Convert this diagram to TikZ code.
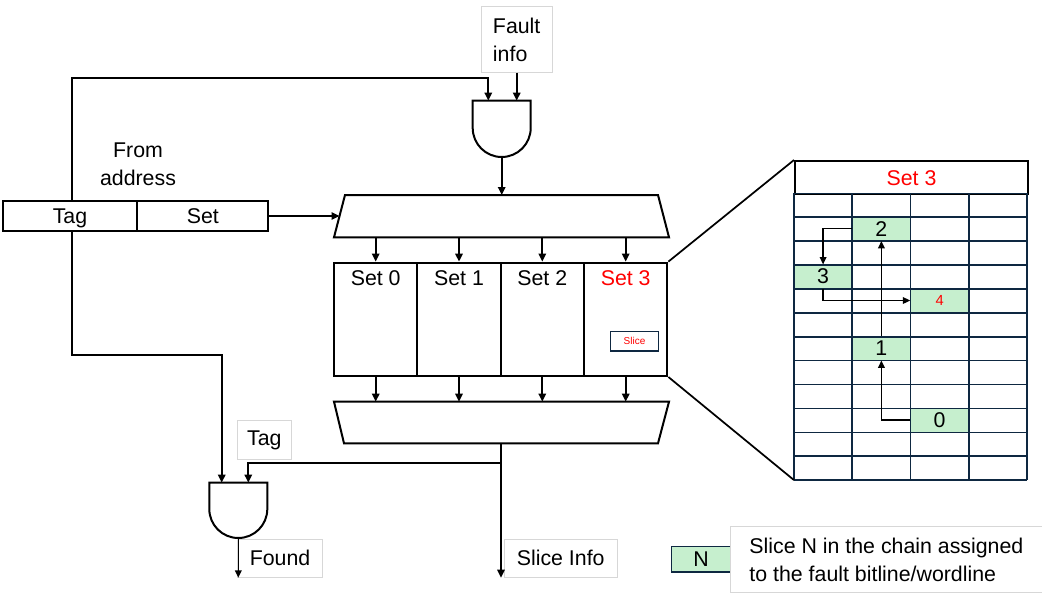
\documentclass[tikz,border=0pt]{standalone}
\usepackage{fontspec}
\setmainfont{Liberation Sans}
\usetikzlibrary{arrows.meta}

\definecolor{navy}{RGB}{14,40,65}
\definecolor{slicegreen}{RGB}{198,239,206}
\definecolor{setred}{RGB}{255,0,0}
\definecolor{boxgray}{RGB}{215,215,215}

\tikzset{
  wire/.style={line width=1.4pt,-{Triangle[length=6pt,width=5.5pt]}},
  thinwire/.style={line width=1pt,-{Triangle[length=5.5pt,width=5pt]}},
  block/.style={draw,line width=1.5pt,inner sep=0pt},
  field/.style={block,minimum height=22.5pt,text height=11.5pt,text depth=0pt,font=\fontsize{16}{18}\selectfont},
  setbox/.style={block,minimum width=62.5pt,minimum height=85pt},
  txtbox/.style={draw=boxgray,line width=0.6pt,inner sep=0pt,align=left,font=\fontsize{16}{21}\selectfont},
  cell/.style={fill=slicegreen,inner sep=0pt,minimum width=43.7pt,minimum height=17.9pt,font=\fontsize{16}{18}\selectfont},
  gridline/.style={draw=navy,line width=1.2pt},
}

\begin{document}
\begin{tikzpicture}[x=0.75pt,y=0.75pt,yscale=-1,xscale=1]
\useasboundingbox (0,0) rectangle (1042,593);

% address fields
\node[field,minimum width=101pt] (tag) at (70,215.7) {Tag};
\node[field,minimum width=98.25pt] (setf) at (202.8,215.7) {Set};
\node[align=center,font=\fontsize{16}{21}\selectfont] (from) at (138,164) {From\\address};

% fault info and and-gate on top
\node[txtbox,minimum width=53.5pt,minimum height=49pt] (fault) at (516.7,39.5) {Fault\\info};
\draw[line width=1.5pt] (472.7,100.7) -- (530.7,100.7) -- (530.7,128)
  .. controls (530.7,144) and (517.7,157) .. (501.7,157)
  .. controls (485.7,157) and (472.7,144) .. (472.7,128) -- cycle;
\coordinate (gA in1) at (488.3,100.7);
\coordinate (gA in2) at (516.7,100.7);
\coordinate (gA out) at (501.7,157);

% decoder
\draw[line width=1.5pt] (345,195) -- (658,195) -- (669,237.3) -- (334,237.3) -- cycle;
\coordinate (dec top) at (501.7,195);
\coordinate (dec in) at (339.5,216);
\coordinate (dec bot) at (501.7,237.3);

% sets
\foreach \i/\cx in {0/375.7,1/459,2/542.3,3/625.7}{
  \node[setbox] (set\i) at (\cx,319.3) {};
  \draw[wire] (set\i.north |- dec bot) -- (set\i.north);
}
\foreach \i/\cx in {0/375.7,1/459,2/542.3}{
  \node[font=\fontsize{16}{18}\selectfont] (set\i lbl) at (\cx,278) {Set \i};
}
\node[font=\fontsize{16}{18}\selectfont,text=setred] (set3 lbl) at (625.7,278) {Set 3};
\node[draw=navy,line width=1.1pt,minimum width=35.7pt,minimum height=14.5pt,inner sep=0pt,text=setred,font=\fontsize{7.5}{9}\selectfont] (slice) at (634.5,341.3) {Slice};

% output mux
\draw[line width=1.5pt] (334,401.7) -- (669,401.7) -- (658,443.3) -- (344,443.3) -- cycle;
\coordinate (mux top) at (501.7,401.7);
\coordinate (mux out) at (501,443.3);
\foreach \i in {0,...,3}
  \draw[wire] (set\i.south) -- (set\i.south |- mux top);

% and-gate for the tag compare
\draw[line width=1.5pt] (209.3,482.7) -- (267.3,482.7) -- (267.3,509)
  .. controls (267.3,525) and (254.3,538) .. (238.3,538)
  .. controls (222.3,538) and (209.3,525) .. (209.3,509) -- cycle;
\coordinate (gB in1) at (221.7,482.7);
\coordinate (gB in2) at (248.3,482.7);
\coordinate (gB out) at (238.3,538);

% labels
\node[txtbox,minimum width=40pt,minimum height=29pt] (taglbl) at (264.3,440) {Tag};
\node[txtbox,minimum width=64pt,minimum height=29pt] (found) at (280,558.3) {Found};
\node[txtbox,minimum width=85pt,minimum height=29pt] (sliceinfo) at (560.7,558.3) {Slice Info};
\coordinate (found end) at (238.3,577.7);
\coordinate (slice end) at (501,577.7);

% wires
\coordinate (tag up) at (71.7,200.7);
\coordinate (tag dn) at (71.7,230.7);
\coordinate (tag turn) at (71.7,78.3);
\coordinate (tag turn2) at (71.7,355);
\coordinate (branch) at (501,463.3);
\draw[wire] (tag up) -- (tag turn) -| (gA in1);
\draw[wire] (fault.south -| gA in2) -- (gA in2);
\draw[wire] (gA out) -- (dec top);
\draw[wire] (setf.east |- dec in) -- (dec in);
\draw[wire] (tag dn) -- (tag turn2) -| (gB in1);
\draw[wire] (mux out) -- (slice end);
\draw[wire] (branch) -| (gB in2);
\draw[thinwire] (gB out) -- (found end);

% zoomed view of set 3
\node[draw,line width=1.5pt,minimum width=174.75pt,minimum height=25pt,inner sep=0pt,anchor=north west,text=setred,font=\fontsize{16}{18}\selectfont] (head) at (794,160) {Set 3};
\node[cell] (s2) at (881.4,228.8) {2};
\node[cell] (s3) at (823.1,276.6) {3};
\node[cell,text=setred,font=\fontsize{11}{13}\selectfont] (s4) at (939.6,300.5) {4};
\node[cell] (s1) at (881.4,348.3) {1};
\node[cell] (s0) at (939.6,420.0) {0};
\foreach \r in {0,...,12}
  \draw[gridline] (794,{193.3+23.9*\r}) -- (1027,{193.3+23.9*\r});
\foreach \c in {0,...,4}
  \draw[gridline] ({794+58.25*\c},193.3) -- ({794+58.25*\c},480.1);
\coordinate (grid sw) at (794,480.1);
\draw[line width=1.3pt] (set3.north east) -- (head.north west);
\draw[line width=1.3pt] (set3.south east) -- (grid sw);

% slice chain
\draw[thinwire] (s0.west) -| (s1.south);
\draw[thinwire] (s1.north) -- (s2.south);
\draw[thinwire] (s2.west) -| (s3.north);
\draw[thinwire] (s3.south) |- (s4.west);

% legend
\node[cell,draw=navy,line width=1.1pt,minimum width=44pt,minimum height=19pt] (key) at (701,559.2) {N};
\node[txtbox,minimum width=234pt,minimum height=49pt,anchor=west] (keytxt) at (730,559.5) {Slice N in the chain assigned\\to the fault bitline/wordline};

\end{tikzpicture}
\end{document}
